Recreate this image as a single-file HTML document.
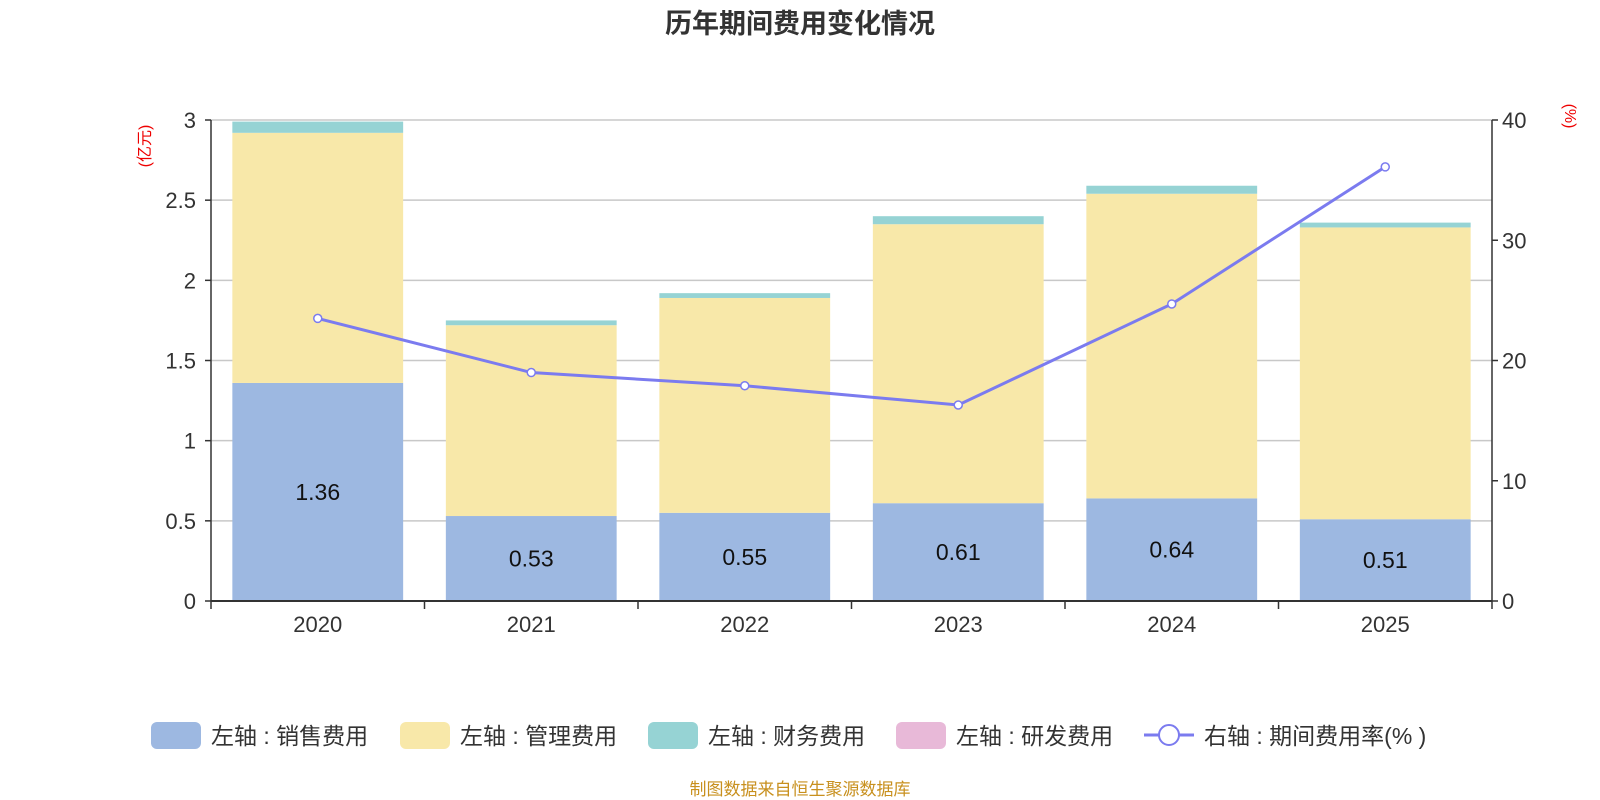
<!DOCTYPE html>
<html><head><meta charset="utf-8"><style>
html,body{margin:0;padding:0;background:#fff;}
svg{display:block;font-family:"Liberation Sans","Noto Sans CJK SC",sans-serif;}
</style></head><body>
<svg id="chart" width="1600" height="800" xmlns="http://www.w3.org/2000/svg">
<text x="800" y="33" text-anchor="middle" font-size="27" font-weight="bold" fill="#333">历年期间费用变化情况</text>
<text transform="translate(150,146) rotate(-90)" text-anchor="middle" font-size="16" fill="#e00">(亿元)</text>
<text transform="translate(1565,116) rotate(90)" text-anchor="middle" font-size="16" fill="#e00">(%)</text>
<g id="grid"></g><g id="bars"></g><g id="axes"></g><g id="line"></g>
<g>
<rect x="151" y="722" width="50" height="27" rx="6" fill="#9db8e1"/>
<text x="211" y="744" font-size="23" fill="#333">左轴 : 销售费用</text>
<rect x="400" y="722" width="50" height="27" rx="6" fill="#f8e8a9"/>
<text x="460" y="744" font-size="23" fill="#333">左轴 : 管理费用</text>
<rect x="648" y="722" width="50" height="27" rx="6" fill="#96d3d4"/>
<text x="708" y="744" font-size="23" fill="#333">左轴 : 财务费用</text>
<rect x="896" y="722" width="50" height="27" rx="6" fill="#e8b9d8"/>
<text x="956" y="744" font-size="23" fill="#333">左轴 : 研发费用</text>
<line x1="1144" y1="735" x2="1194" y2="735" stroke="#7b7bef" stroke-width="3"/>
<circle cx="1169" cy="735" r="10" fill="#fff" stroke="#7b7bef" stroke-width="2"/>
<text x="1204" y="744" font-size="23" fill="#333">右轴 : 期间费用率(% )</text>
</g>
<text x="800" y="795" text-anchor="middle" font-size="17" fill="#c8901e">制图数据来自恒生聚源数据库</text>
</svg>
<script>
const years = ['2020','2021','2022','2023','2024','2025'];
const sales = [1.36,0.53,0.55,0.61,0.64,0.51];
const admin = [1.56,1.19,1.34,1.74,1.90,1.82];
const finance = [0.07,0.03,0.03,0.05,0.05,0.03];
const rd = [0,0,0,0,0,0];
const rate = [23.5,19.0,17.9,16.3,24.7,36.1];
const leftTicks = ['0','0.5','1','1.5','2','2.5','3'];
const rightTicks = ['0','10','20','30','40'];
const NS='http://www.w3.org/2000/svg';
const X0=211,X1=1492,Y0=601,Y1=120;
const yL=v=>Y0-(v/3)*(Y0-Y1);
const yR=v=>Y0-(v/40)*(Y0-Y1);
const band=(X1-X0)/years.length;
const xC=i=>X0+band*(i+0.5);
function mk(tag,attrs,parent){const e=document.createElementNS(NS,tag);for(const k in attrs)e.setAttribute(k,attrs[k]);document.getElementById(parent).appendChild(e);return e;}
leftTicks.forEach((t,i)=>{const y=yL(+t);
 if(i>0){const g=mk('line',{x1:X0,x2:X1,y1:y,y2:y,stroke:'#c8c8c8','stroke-width':1.5},'grid');
 
 }
 const tk=mk('line',{x1:X0-6,x2:X0,y1:y,y2:y,stroke:'#333','stroke-width':1.5},'axes');
 
 
 const tx=mk('text',{x:X0-15,y:y+8,'text-anchor':'end','font-size':22,fill:'#333'},'axes');tx.textContent=t;
 
 
});
rightTicks.forEach(t=>{const y=yR(+t);
 const tk=mk('line',{x1:X1,x2:X1+6,y1:y,y2:y,stroke:'#333','stroke-width':1.5},'axes');
 
 
 const tx=mk('text',{x:X1+10,y:y+8,'font-size':22,fill:'#333'},'axes');tx.textContent=t;
 
 
});
const bw=band*0.8;
years.forEach((yr,i)=>{
 let base=0;
 [[sales,'#9db8e1','bar-sales'],[admin,'#f8e8a9','bar-admin'],[finance,'#96d3d4','bar-finance'],[rd,'#e8b9d8','bar-rd']].forEach(([arr,c,n])=>{
  const v=arr[i];if(v<=0)return;
  const r=mk('rect',{x:xC(i)-bw/2,y:yL(base+v),width:bw,height:yL(base)-yL(base+v),fill:c},'bars');
  
  
  base+=v;
 });
 const lb=mk('text',{x:xC(i),y:(yL(0)+yL(sales[i]))/2+8,'text-anchor':'middle','font-size':23,fill:'#111'},'bars');
 lb.textContent=sales[i].toFixed(2);
 
 
 const xl=mk('text',{x:xC(i),y:Y0+31,'text-anchor':'middle','font-size':22,fill:'#333'},'axes');xl.textContent=yr;
 
 
});
for(let i=0;i<=years.length;i++){const x=X0+band*i;
 const tk=mk('line',{x1:x,x2:x,y1:Y0,y2:Y0+8,stroke:'#333','stroke-width':1.5},'axes');
 
 }
let a=mk('line',{x1:X0,x2:X1,y1:Y0,y2:Y0,stroke:'#333','stroke-width':2},'axes');


a=mk('line',{x1:X0,x2:X0,y1:Y1,y2:Y0,stroke:'#333','stroke-width':1.5},'axes');


a=mk('line',{x1:X1,x2:X1,y1:Y1,y2:Y0,stroke:'#333','stroke-width':1.5},'axes');


const pl=mk('polyline',{points:rate.map((v,i)=>xC(i)+','+yR(v)).join(' '),fill:'none',stroke:'#7b7bef','stroke-width':3},'line');


rate.forEach((v,i)=>{const c=mk('circle',{cx:xC(i),cy:yR(v),r:4,fill:'#fff',stroke:'#7b7bef','stroke-width':1.5},'line');
 
 });
</script>
</body></html>
